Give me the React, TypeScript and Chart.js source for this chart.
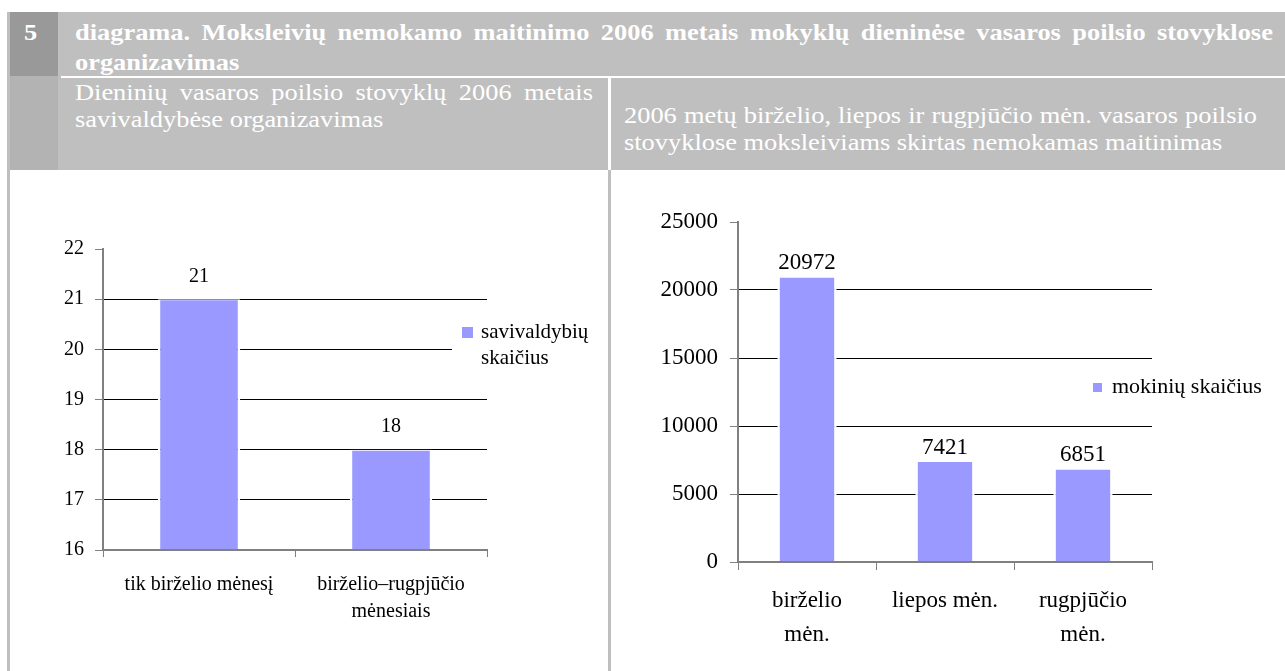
import React, { useEffect, useRef } from "react";
import { Chart, registerables } from "chart.js";

Chart.register(...registerables);

// ---------------- data ----------------
const leftCategories: string[][] = [["tik birželio mėnesį"], ["birželio–rugpjūčio", "mėnesiais"]];
const leftValues: number[] = [21, 18];
const leftSeries: string[] = ["savivaldybių", "skaičius"];
const leftTicks: number[] = [16, 17, 18, 19, 20, 21, 22];

const rightCategories: string[][] = [["birželio", "mėn."], ["liepos mėn."], ["rugpjūčio", "mėn."]];
const rightValues: number[] = [20972, 7421, 6851];
const rightSeries: string[] = ["mokinių skaičius"];
const rightTicks: number[] = [0, 5000, 10000, 15000, 20000, 25000];

const titleLines: string[] = [
  "diagrama. Moksleivių nemokamo maitinimo 2006 metais mokyklų dieninėse vasaros poilsio stovyklose",
  "organizavimas",
];
const leftSubtitle: string[] = ["Dieninių vasaros poilsio stovyklų 2006 metais", "savivaldybėse organizavimas"];
const rightSubtitle: string[] = [
  "2006 metų birželio, liepos ir rugpjūčio mėn. vasaros poilsio",
  "stovyklose moksleiviams skirtas nemokamas maitinimas",
];

const BAR_COLOR = "#9999ff";
const FONT = "'Liberation Serif', 'Times New Roman', Times, serif";
const HEADER_GRAY = "#bfbfbf";

// ---------------- plugins ----------------
const valueLabels = {
  id: "valueLabels",
  afterDatasetsDraw(chart: any, _a: any, opts: any) {
    const { ctx } = chart;
    const meta = chart.getDatasetMeta(0);
    const data = chart.data.datasets[0].data;
    ctx.save();
    ctx.font = `${opts.size}px ${FONT}`;
    ctx.fillStyle = "#000";
    ctx.textAlign = "center";
    ctx.textBaseline = "alphabetic";
    meta.data.forEach((el: any, i: number) => {
      ctx.fillText(String(data[i]), el.x, el.y - opts.offset);
    });
    ctx.restore();
  },
};

const sideLegend = {
  id: "sideLegend",
  afterDatasetsDraw(chart: any, _a: any, o: any) {
    const { ctx, chartArea } = chart;
    const ds = chart.data.datasets[0];
    const sx = chartArea.right + o.dx;
    const cy = chartArea.top + o.dy;
    ctx.save();
    if (o.clear) {
      ctx.fillStyle = "#ffffff";
      const x0 = sx + o.clear.dx;
      ctx.fillRect(x0, cy + o.clear.top, chart.width - x0, o.clear.height);
    }
    ctx.fillStyle = ds.backgroundColor;
    ctx.fillRect(sx, cy - o.box / 2, o.box, o.box);
    ctx.font = `${o.size}px ${FONT}`;
    ctx.fillStyle = "#000";
    ctx.textAlign = "left";
    ctx.textBaseline = "middle";
    (o.lines as string[]).forEach((t, i) => ctx.fillText(t, sx + o.gap, cy + i * o.lineHeight));
    ctx.restore();
  },
};

// ---------------- config ----------------
type Cfg = {
  categories: string[][];
  values: number[];
  series: string[];
  ticks: number[];
  font: number;
  lineHeight: number;
  yWidth: number;
  xHeight: number;
  padTop: number;
  padRight: number;
  yPad: number;
  xPad: number;
  yTickLen: number;
  xTickLen: number;
  labelSize: number;
  labelOffset: number;
  legend: any;
};

function buildConfig(c: Cfg): any {
  const max = c.ticks[c.ticks.length - 1];
  const min = c.ticks[0];
  return {
    type: "bar",
    data: {
      labels: c.categories,
      datasets: [
        {
          label: c.series.join(" "),
          data: c.values,
          backgroundColor: BAR_COLOR,
          borderColor: "#ffffff",
          borderWidth: { left: 2.5, right: 2.5, top: 1, bottom: 0 },
          borderSkipped: "start",
          categoryPercentage: 1,
          barPercentage: 0.43,
        },
      ],
    },
    plugins: [valueLabels, sideLegend],
    options: {
      animation: false,
      responsive: false,
      events: [],
      layout: { padding: { left: 0, top: c.padTop, right: c.padRight, bottom: 0 } },
      plugins: {
        legend: { display: false },
        tooltip: { enabled: false },
        title: { display: false },
        valueLabels: { size: c.labelSize, offset: c.labelOffset },
        sideLegend: c.legend,
      },
      scales: {
        x: {
          type: "category",
          grid: {
            display: true,
            drawOnChartArea: false,
            drawTicks: true,
            tickLength: c.xTickLen,
            tickColor: "#808080",
            offset: true,
          },
          border: { display: true, color: "#808080", width: 2, z: 1 },
          ticks: {
            color: "#000",
            font: { family: FONT, size: c.font, lineHeight: c.lineHeight / c.font },
            padding: c.xPad,
            maxRotation: 0,
            minRotation: 0,
            autoSkip: false,
          },
          afterFit: (s: any) => {
            s.height = c.xHeight;
          },
        },
        y: {
          type: "linear",
          min,
          max,
          grid: {
            color: (ctx: any) => (ctx.tick && ctx.tick.value === max ? "rgba(0,0,0,0)" : "#000000"),
            lineWidth: 1,
            drawTicks: true,
            tickLength: c.yTickLen,
            tickColor: "#808080",
          },
          border: { display: true, color: "#808080", width: 2, z: 1 },
          ticks: {
            color: "#000",
            font: { family: FONT, size: c.font },
            padding: c.yPad,
            stepSize: c.ticks[1] - c.ticks[0],
            callback: (v: any) => String(v),
          },
          afterBuildTicks: (s: any) => {
            s.ticks = c.ticks.map((v) => ({ value: v }));
          },
          afterFit: (s: any) => {
            s.width = c.yWidth;
          },
        },
      },
    },
  };
}

function BarChart(props: { left: number; top: number; width: number; height: number; cfg: Cfg }) {
  const ref = useRef<HTMLCanvasElement>(null);
  useEffect(() => {
    const chart = new Chart(ref.current as HTMLCanvasElement, buildConfig(props.cfg));
    return () => chart.destroy();
  }, []);
  return (
    <canvas
      ref={ref}
      width={props.width}
      height={props.height}
      style={{
        position: "absolute",
        left: props.left,
        top: props.top,
        width: props.width,
        height: props.height,
        display: "block",
      }}
    />
  );
}

// ---------------- header text ----------------
const SX = 1.1;
const HFONT = 24;

function TextBlock(props: {
  left: number;
  top: number;
  width: number;
  lineHeight: number;
  bold?: boolean;
  lines: string[];
  justify: boolean[];
}) {
  return (
    <div
      style={{
        position: "absolute",
        left: props.left,
        top: props.top,
        width: props.width / SX,
        transform: `scaleX(${SX})`,
        transformOrigin: "0 0",
        fontFamily: FONT,
        fontSize: HFONT,
        lineHeight: props.lineHeight + "px",
        fontWeight: props.bold ? 700 : 400,
        color: "#ffffff",
      }}
    >
      {props.lines.map((l, i) =>
        props.justify[i] ? (
          <div key={i} style={{ display: "flex", justifyContent: "space-between", whiteSpace: "nowrap" }}>
            {l.split(" ").map((w, j) => (
              <span key={j}>{w}</span>
            ))}
          </div>
        ) : (
          <div key={i} style={{ whiteSpace: "nowrap" }}>
            {l}
          </div>
        )
      )}
    </div>
  );
}

const box = (left: number, top: number, width: number, height: number, bg: string): React.CSSProperties => ({
  position: "absolute",
  left,
  top,
  width,
  height,
  background: bg,
});

export default function App() {
  const leftCfg: Cfg = {
    categories: leftCategories,
    values: leftValues,
    series: leftSeries,
    ticks: leftTicks,
    font: 20,
    lineHeight: 27,
    yWidth: 93,
    xHeight: 121,
    padTop: 78,
    padRight: 119,
    yPad: 11,
    xPad: 14.5,
    yTickLen: 8,
    xTickLen: 7,
    labelSize: 20,
    labelOffset: 17.5,
    legend: {
      dx: -25,
      dy: 83.5,
      box: 11,
      gap: 19,
      lineHeight: 26,
      size: 21,
      lines: leftSeries,
      clear: { dx: -10, top: -14.5, height: 54 },
    },
  };
  const rightCfg: Cfg = {
    categories: rightCategories,
    values: rightValues,
    series: rightSeries,
    ticks: rightTicks,
    font: 23,
    lineHeight: 34,
    yWidth: 127,
    xHeight: 109,
    padTop: 51,
    padRight: 133,
    yPad: 12,
    xPad: 14,
    yTickLen: 8,
    xTickLen: 8,
    labelSize: 23,
    labelOffset: 7.5,
    legend: {
      dx: -59,
      dy: 165.5,
      box: 9,
      gap: 19,
      lineHeight: 26,
      size: 22,
      lines: rightSeries,
    },
  };

  return (
    <div
      style={{
        position: "absolute",
        left: 0,
        top: 0,
        width: 1285,
        height: 671,
        overflow: "hidden",
        background: "#ffffff",
      }}
    >
      {/* table frame */}
      <div style={box(7, 12, 3, 659, HEADER_GRAY)} />
      <div style={box(10, 12, 1275, 158, HEADER_GRAY)} />
      <div style={box(10, 12, 48, 64, "#999999")} />
      <div style={box(10, 76, 48, 94, "#b3b3b3")} />
      <div style={box(61, 76, 1224, 2, "#ffffff")} />
      <div style={box(608, 78, 3, 92, "#ffffff")} />
      <div style={box(608, 170, 3, 501, HEADER_GRAY)} />

      <TextBlock left={24} top={16.5} width={30} lineHeight={30} bold lines={["5"]} justify={[false]} />
      <TextBlock left={75} top={16.5} width={1198} lineHeight={30} bold lines={titleLines} justify={[true, false]} />
      <TextBlock left={75} top={78.5} width={518} lineHeight={27} lines={leftSubtitle} justify={[true, false]} />
      <TextBlock left={624} top={102} width={633} lineHeight={27} lines={rightSubtitle} justify={[true, false]} />

      <BarChart left={10} top={171} width={596} height={500} cfg={leftCfg} />
      <BarChart left={611} top={171} width={674} height={500} cfg={rightCfg} />
    </div>
  );
}
